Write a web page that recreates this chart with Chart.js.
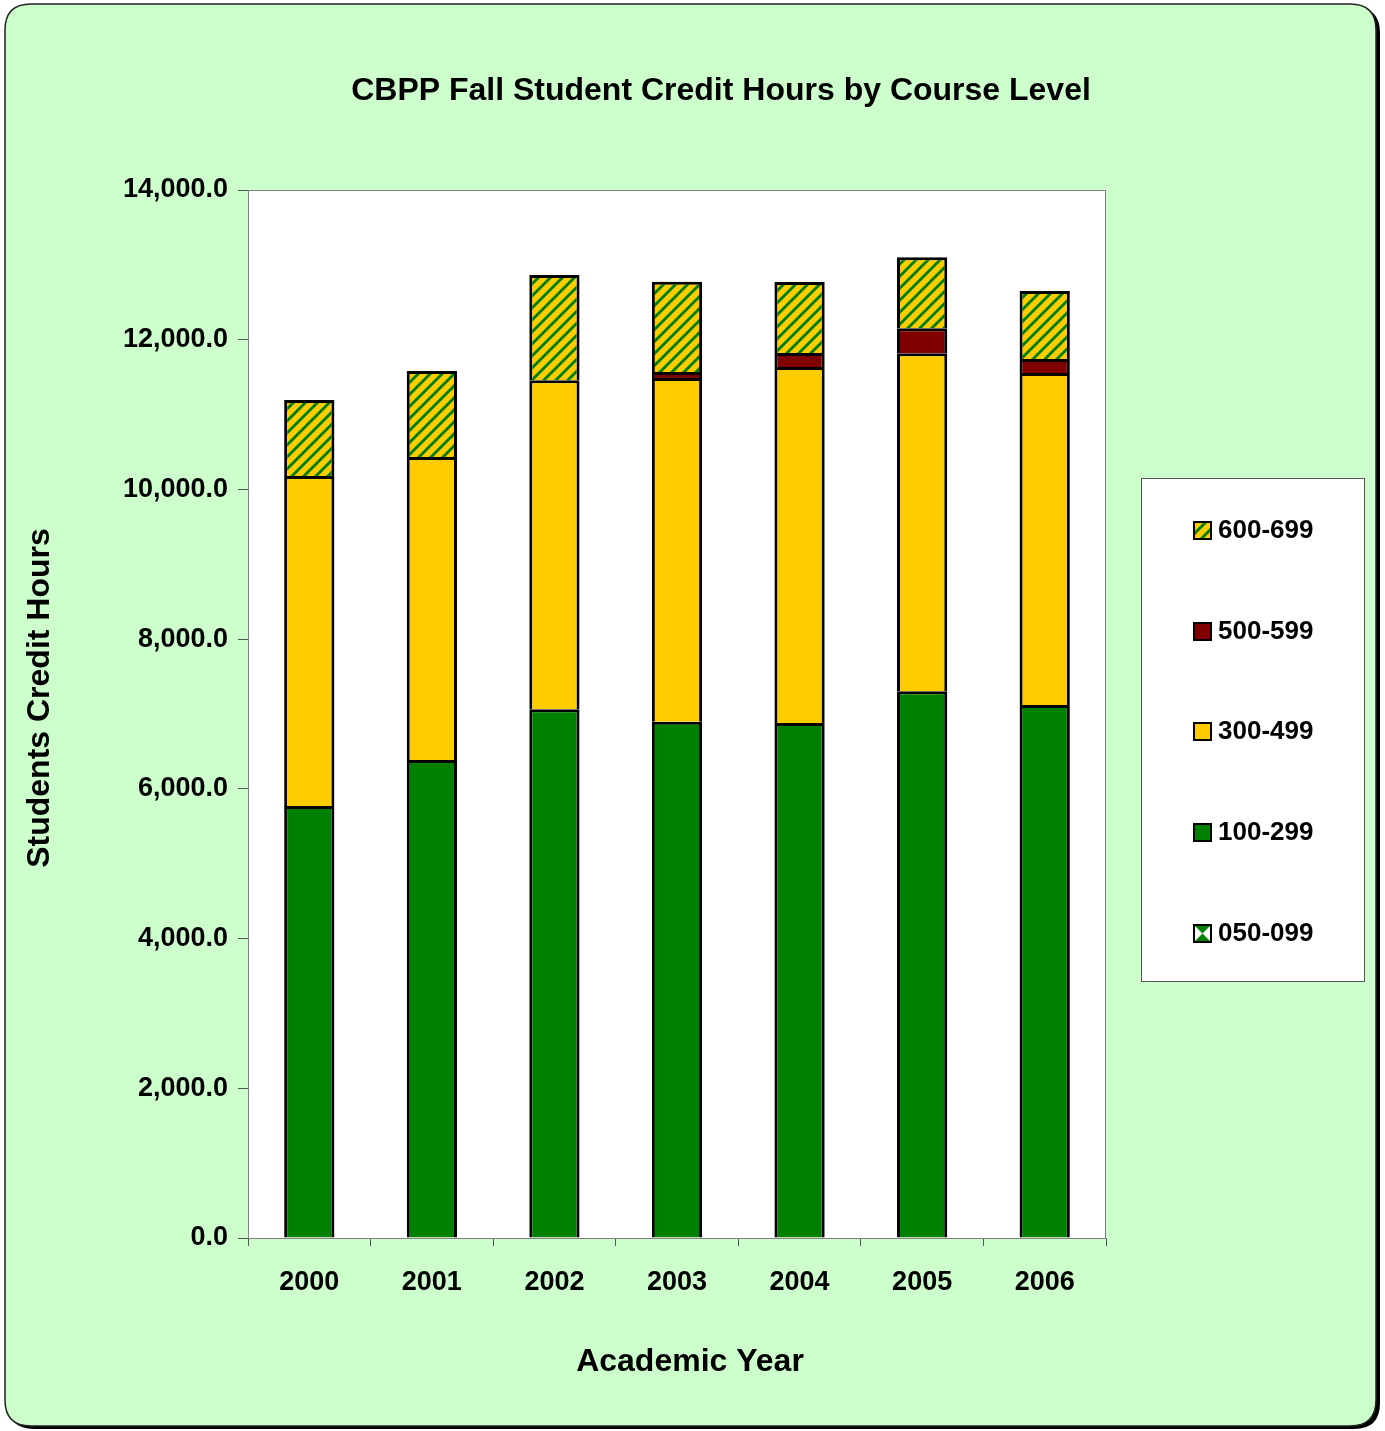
<!DOCTYPE html>
<html>
<head>
<meta charset="utf-8">
<script src="https://cdn.jsdelivr.net/npm/chart.js@4.4.1/dist/chart.umd.min.js"></script>
<style>
html,body{margin:0;padding:0;background:#ffffff;}
#wrap{width:1385px;height:1431px;position:relative;}
</style>
</head>
<body>
<div id="wrap"><canvas id="c" width="1385" height="1431"></canvas></div>
<script>
// ---- data ----
const categories = ['2000', '2001', '2002', '2003', '2004', '2005', '2006'];
const seriesNames = ['050-099', '100-299', '300-499', '500-599', '600-699'];
const s050 = [0, 0, 0, 0, 0, 0, 0];
const s100 = [5770, 6385, 7065, 6895, 6880, 7305, 7120];
const s300 = [4410, 4048, 4395, 4595, 4755, 4515, 4435];
const s500 = [0, 0, 0, 80, 187, 334, 187];
const s600 = [1015, 1150, 1403, 1203, 949, 949, 908];
const yTicks = [0, 2000, 4000, 6000, 8000, 10000, 12000, 14000];
const titleText = 'CBPP Fall Student Credit Hours by Course Level';
const xTitle = 'Academic Year';
const yTitle = 'Students Credit Hours';

const FONT = '"Liberation Sans", Arial, Helvetica, sans-serif';
const GREEN = '#008000', YELLOW = '#FFCC00', DRED = '#800000';

function hatchPattern() {
  const p = document.createElement('canvas');
  p.width = 12; p.height = 12;
  const g = p.getContext('2d');
  g.fillStyle = YELLOW; g.fillRect(0, 0, 12, 12);
  g.strokeStyle = GREEN; g.lineWidth = 2.9;
  g.beginPath();
  g.moveTo(-6, 6); g.lineTo(6, -6);
  g.moveTo(0, 12); g.lineTo(12, 0);
  g.moveTo(6, 18); g.lineTo(18, 6);
  g.stroke();
  return document.getElementById('c').getContext('2d').createPattern(p, 'repeat');
}
const HATCH = hatchPattern();

function rrect(ctx, x, y, w, h, r) {
  ctx.beginPath();
  ctx.moveTo(x + r, y);
  ctx.lineTo(x + w - r, y);
  ctx.quadraticCurveTo(x + w, y, x + w, y + r);
  ctx.lineTo(x + w, y + h - r);
  ctx.quadraticCurveTo(x + w, y + h, x + w - r, y + h);
  ctx.lineTo(x + r, y + h);
  ctx.quadraticCurveTo(x, y + h, x, y + h - r);
  ctx.lineTo(x, y + r);
  ctx.quadraticCurveTo(x, y, x + r, y);
  ctx.closePath();
}

const decor = {
  id: 'decor',
  beforeDraw(chart) {
    const ctx = chart.ctx;
    ctx.save();
    ctx.fillStyle = '#ffffff';
    ctx.fillRect(0, 0, chart.width, chart.height);
    rrect(ctx, 8, 7, 1372, 1422, 26);
    ctx.fillStyle = '#000000'; ctx.fill();
    rrect(ctx, 5, 4, 1371, 1422, 26);
    ctx.fillStyle = '#CCFFCC'; ctx.fill();
    ctx.lineWidth = 1.5; ctx.strokeStyle = '#222222'; ctx.stroke();
    const a = chart.chartArea;
    ctx.fillStyle = '#ffffff';
    ctx.fillRect(a.left, a.top, a.right - a.left, a.bottom - a.top);
    ctx.strokeStyle = '#808080'; ctx.lineWidth = 1;
    ctx.strokeRect(a.left + 0.5, a.top + 0.5, a.right - a.left - 1, a.bottom - a.top);
    // titles
    ctx.fillStyle = '#000000';
    ctx.font = 'bold 32px ' + FONT;
    ctx.textAlign = 'center'; ctx.textBaseline = 'middle';
    ctx.fillText(titleText, 721, 91);
    ctx.fillText(xTitle, 690, 1362);
    ctx.save();
    ctx.translate(40, 698);
    ctx.rotate(-Math.PI / 2);
    ctx.fillText(yTitle, 0, 0);
    ctx.restore();
    ctx.restore();
  },
  afterDraw(chart) {
    const ctx = chart.ctx;
    ctx.save();
    ctx.fillStyle = '#ffffff';
    ctx.fillRect(1141, 478, 224, 504);
    ctx.strokeStyle = '#555555'; ctx.lineWidth = 1;
    ctx.strokeRect(1141.5, 478.5, 223, 503);
    const order = [4, 3, 2, 1, 0];
    const ys = [530, 631, 731, 832, 933];
    ctx.font = 'bold 26px ' + FONT;
    ctx.textAlign = 'left'; ctx.textBaseline = 'middle';
    order.forEach((di, i) => {
      const ds = chart.data.datasets[di];
      const x = 1194, y = ys[i] - 8, s = 17;
      if (di === 0) {
        ctx.fillStyle = '#ffffff'; ctx.fillRect(x, y, s, s);
        ctx.fillStyle = GREEN;
        ctx.beginPath(); ctx.moveTo(x, y); ctx.lineTo(x + s, y); ctx.lineTo(x + s / 2, y + s / 2); ctx.closePath(); ctx.fill();
        ctx.beginPath(); ctx.moveTo(x, y + s); ctx.lineTo(x + s, y + s); ctx.lineTo(x + s / 2, y + s / 2); ctx.closePath(); ctx.fill();
      } else {
        ctx.fillStyle = ds.backgroundColor; ctx.fillRect(x, y, s, s);
      }
      ctx.strokeStyle = '#000000'; ctx.lineWidth = 2;
      ctx.strokeRect(x, y, s, s);
      ctx.fillStyle = '#000000';
      ctx.fillText(ds.label, 1218, ys[i] + 1);
    });
    ctx.restore();
  }
};

const values = [s050, s100, s300, s500, s600];
const fills = ['#ffffff', GREEN, YELLOW, DRED, HATCH];
const datasets = values.map((v, i) => ({
  label: seriesNames[i], data: v, backgroundColor: fills[i],
  borderColor: '#000000', borderSkipped: false,
  barPercentage: 0.41, categoryPercentage: 1.0,
  borderWidth: c => (c.raw ? { top: 3, left: 3, right: 3, bottom: 0 } : 0)
}));

new Chart(document.getElementById('c'), {
  type: 'bar',
  data: { labels: categories, datasets: datasets },
  plugins: [decor],
  options: {
    responsive: false,
    animation: false,
    devicePixelRatio: 1,
    layout: { padding: { left: 0, right: 279, top: 190, bottom: 0 } },
    plugins: { legend: { display: false }, title: { display: false }, tooltip: { enabled: false } },
    scales: {
      x: {
        stacked: true,
        afterFit(scale) { scale.height = 193; },
        grid: { display: true, drawOnChartArea: false, drawTicks: true, tickLength: 8, color: '#555555', offset: true },
        border: { display: true, color: '#808080' },
        ticks: { color: '#000000', font: { family: FONT, size: 27, weight: 'bold' }, padding: 20, maxRotation: 0 }
      },
      y: {
        stacked: true,
        min: 0, max: 14000,
        afterFit(scale) { scale.width = 248; },
        afterBuildTicks(scale) { scale.ticks = yTicks.map(v => ({ value: v })); },
        grid: { display: true, drawOnChartArea: false, drawTicks: true, tickLength: 10, color: '#555555' },
        border: { display: true, color: '#808080' },
        ticks: {
          color: '#000000', font: { family: FONT, size: 27, weight: 'bold' }, padding: 10,
          callback: v => Number(v).toLocaleString('en-US', { minimumFractionDigits: 1, maximumFractionDigits: 1 })
        }
      }
    }
  }
});
</script>
</body>
</html>
